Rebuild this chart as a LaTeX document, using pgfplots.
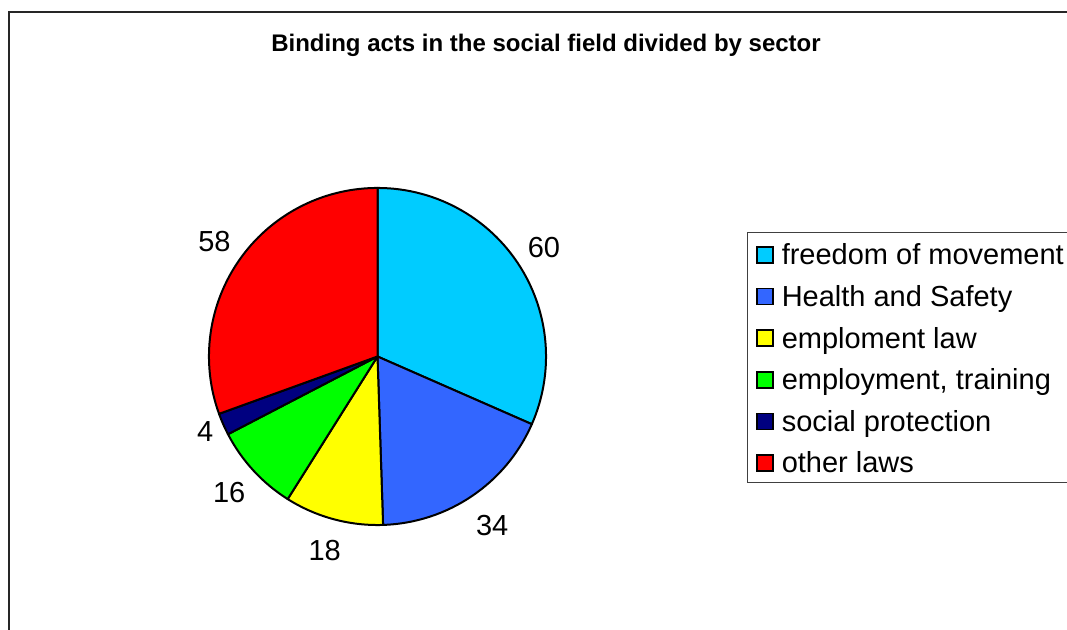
\documentclass[border=0pt]{standalone}
\usepackage{pgfplots}
\usepackage{pgfplotstable}
\pgfplotsset{compat=1.18}
\usepackage{fontspec}
\setmainfont{Liberation Sans}
\definecolor{cFree}{RGB}{0,204,255}
\definecolor{cHealth}{RGB}{51,102,255}
\definecolor{cEmpl}{RGB}{255,255,0}
\definecolor{cTrain}{RGB}{0,255,0}
\definecolor{cSocial}{RGB}{0,0,128}
\definecolor{cOther}{RGB}{255,0,0}
\newcommand\lbl{\fontsize{21.75}{26}\selectfont}
\pgfplotstableread[col sep=semicolon]{
value;color;name
60;cFree;freedom of movement
34;cHealth;Health and Safety
18;cEmpl;emploment law
16;cTrain;employment, training
4;cSocial;social protection
58;cOther;other laws
}\piedata
\begin{document}
\begin{tikzpicture}[x=0.75pt,y=0.75pt]
\useasboundingbox (0,0) rectangle (1067,630);
\clip (0,0) rectangle (1067,630);
\begin{axis}[at={(0,0)},anchor=south west,hide axis,
  x=0.75pt,y=0.75pt,xmin=0,xmax=1067,ymin=0,ymax=630,clip=false]
\pgfplotsextra{
  % outer frame
  \draw[black!85,line width=0.8pt] (axis cs:9,618) rectangle (axis cs:1100,-20);
  % title
  \node[anchor=base,inner sep=0pt,font=\bfseries\fontsize{18}{21}\selectfont]
    at (axis cs:546,578) {Binding acts in the social field divided by sector};
  % total
  \gdef\total{0}
  \foreach \i in {0,...,5}{
    \pgfplotstablegetelem{\i}{value}\of\piedata
    \pgfmathsetmacro\t{\total+\pgfplotsretval}
    \xdef\total{\t}
  }
  \gdef\cum{0}
  \foreach \i in {0,...,5}{
    \pgfplotstablegetelem{\i}{value}\of\piedata
    \let\v\pgfplotsretval
    \pgfplotstablegetelem{\i}{color}\of\piedata
    \let\c\pgfplotsretval
    \pgfmathsetmacro\sa{90-\cum/\total*360}
    \pgfmathsetmacro\ea{90-(\cum+\v)/\total*360}
    \pgfmathsetmacro\ma{(\sa+\ea)/2}
    \pgfmathsetmacro\an{mod(\ma+540,360)}
    \filldraw[fill=\c,draw=black,line width=1.5pt,line join=round]
      (axis cs:377.5,273.5) -- ++(\sa:126.4pt)
      arc[start angle=\sa,end angle=\ea,radius=126.4pt] -- cycle;
    \path (axis cs:377.5,273.5) ++(\ma:133.5pt)
      node[font=\lbl,inner xsep=0.75pt,inner ysep=8.6pt,anchor=\an] {\v};
    \pgfmathsetmacro\nc{\cum+\v}
    \xdef\cum{\nc}
  }
  % legend
  \draw[black!75,line width=0.8pt] (axis cs:747.5,397.5) rectangle (axis cs:1100,147.5);
  \foreach \i in {0,...,5}{
    \pgfplotstablegetelem{\i}{color}\of\piedata
    \let\c\pgfplotsretval
    \pgfplotstablegetelem{\i}{name}\of\piedata
    \let\n\pgfplotsretval
    \pgfmathsetmacro\yb{365-41.6*\i}
    \pgfmathsetmacro\ya{\yb+2}
    \pgfmathsetmacro\yc{\yb+18}
    \filldraw[fill=\c,draw=black,line width=1.3pt] (axis cs:757,\ya) rectangle (axis cs:773,\yc);
    \node[anchor=base west,font=\lbl,inner sep=0pt] at (axis cs:781.5,\yb) {\n};
  }
}
\end{axis}
\end{tikzpicture}
\end{document}
